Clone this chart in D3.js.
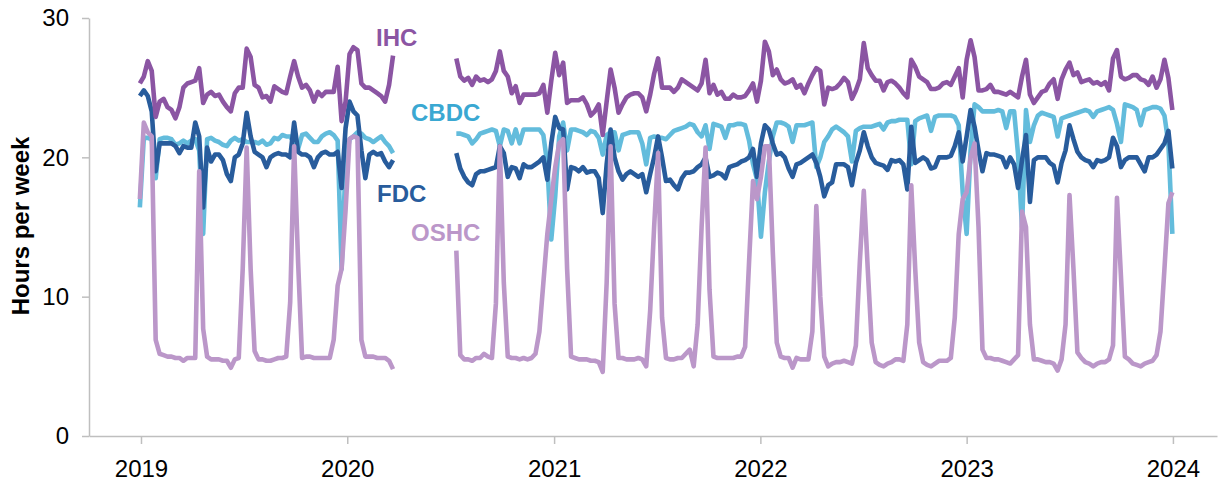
<!DOCTYPE html>
<html><head><meta charset="utf-8">
<script src="https://cdn.jsdelivr.net/npm/d3@7"></script>
<style>
body{margin:0;background:#fff}
svg{display:block}
text{font-family:"Liberation Sans",Arial,Helvetica,sans-serif}
</style>
</head><body>
<svg id="chart" width="1219" height="481"></svg>
<script>
// ---------- data ----------
const firstWeek = "2018-12-30";   // weekly observations
const weekCount = 262;
const yTickValues = [0, 10, 20, 30];
const xTickYears = ["2019", "2020", "2021", "2022", "2023", "2024"];
const yAxisTitle = "Hours per week";

const gap = [null,null,null,null,null,null,null,null,null,null,null,null,null,null,null];

const ihcA = [25.3,25.8,26.9,26.2,22.9,24.0,24.2,23.6,23.4,22.8,
23.6,25.0,25.3,25.4,25.5,26.4,23.9,24.5,24.7,24.4,
24.5,24.0,23.6,23.3,24.6,25.0,25.0,27.8,27.2,25.2,
25.0,24.3,24.4,24.0,25.1,24.9,24.7,24.6,25.8,26.9,
25.8,25.0,25.2,24.8,24.0,24.7,24.4,24.7,24.7,24.7,
26.5,22.6,24.0,27.4,27.9,27.7,25.3,25.0,25.0,24.8,
24.6,24.4,24.0,25.2,27.3];
const ihcB = [27.1,25.8,25.5,25.7,25.2,25.8,25.5,25.6,25.4,25.6,
26.2,27.6,26.2,25.8,24.6,25.1,23.9,24.5,24.5,24.5,
24.5,24.6,25.2,23.2,25.5,27.5,25.9,26.8,23.9,24.1,
24.1,24.1,24.3,23.8,23.0,23.3,23.8,21.6,24.0,26.3,
25.0,23.2,23.8,24.3,24.5,24.6,24.6,24.3,23.3,24.5,
26.0,27.1,25.0,25.0,25.0,24.7,25.0,25.6,25.4,25.2,
25.0,24.8,25.3,27.0,24.6,25.2,24.5,24.7,24.2,24.2,
24.5,24.3,24.3,24.4,24.8,25.3,24.0,25.5,28.3,27.6,
25.9,26.3,25.6,25.3,25.4,25.6,25.0,25.2,24.6,25.3,
25.9,26.4,26.2,23.8,25.0,24.9,25.0,25.3,25.7,25.4,
24.2,24.8,25.6,28.2,26.4,25.9,25.5,25.5,24.8,25.4,
25.5,25.3,25.0,24.6,24.3,27.0,26.5,25.8,25.6,25.4,
24.9,24.9,25.0,25.3,25.4,25.2,25.8,26.4,24.3,27.0,
28.4,27.2,24.8,24.8,24.9,25.2,24.7,24.7,24.6,24.5,
24.7,24.5,24.3,25.8,27.0,24.5,23.9,24.3,24.7,24.8,
25.3,25.6,24.2,25.6,26.3,26.8,25.9,26.1,25.4,25.5,
25.6,25.3,25.4,25.2,25.4,24.8,27.1,27.7,25.8,25.6,
25.7,25.9,25.9,25.6,25.5,25.2,25.8,25.0,25.6,27.0,
25.7,23.4];

const cbdcA = [16.4,21.4,21.4,21.3,18.5,21.3,21.4,21.4,21.3,20.9,
21.0,21.2,21.0,21.2,21.3,20.5,14.5,21.3,21.4,21.2,
21.1,20.9,20.8,21.2,21.4,21.2,21.3,21.1,21.1,21.1,
21.0,21.2,20.9,21.0,21.4,21.3,21.6,21.5,21.5,21.0,
20.6,21.6,21.7,21.4,21.1,21.1,21.5,21.7,21.8,21.6,
21.2,12.0,19.5,21.3,21.5,21.8,21.7,21.4,21.3,21.1,
21.3,21.5,21.1,20.8,20.3];
const cbdcB = [21.7,21.7,21.6,21.5,21.0,21.3,21.7,21.8,21.9,22.0,
21.9,20.8,22.0,21.9,21.0,22.0,21.0,22.0,22.0,22.0,
22.0,22.0,21.6,19.5,14.1,17.2,21.5,22.5,20.5,22.0,
22.0,21.9,21.8,21.6,21.9,21.8,21.4,20.2,21.6,21.8,
21.8,20.5,21.6,21.7,21.8,21.8,21.8,21.0,19.5,21.4,
21.5,21.4,21.4,21.3,21.6,21.9,22.0,22.1,22.2,22.4,
22.3,21.8,21.5,22.3,20.6,22.4,22.3,22.2,21.4,22.3,
22.3,22.4,22.4,22.3,21.2,19.5,18.4,14.3,17.5,19.7,
21.5,22.5,22.5,22.4,22.2,21.1,22.3,22.3,22.3,22.4,
22.5,19.3,20.0,21.1,21.5,22.0,22.2,22.0,21.8,21.5,
19.7,21.9,22.1,22.2,22.2,22.2,22.3,22.4,22.0,22.5,
22.6,22.6,22.7,22.7,22.7,19.5,22.6,22.8,22.9,23.0,
21.9,22.9,23.0,23.0,23.0,23.0,22.9,22.3,17.5,14.5,
20.5,23.8,23.6,23.3,23.3,23.3,23.3,23.4,23.3,22.1,
23.3,23.3,20.2,15.0,23.4,21.1,22.3,23.0,23.2,23.1,
23.0,22.9,21.5,22.8,22.9,23.0,23.1,23.2,23.3,23.4,
23.3,22.9,23.3,23.4,23.5,23.6,23.4,22.4,21.1,23.8,
23.7,23.6,23.4,22.3,23.4,23.5,23.6,23.6,23.5,23.0,
21.0,14.5];

const fdcA = [24.4,24.8,24.4,23.3,19.0,21.0,21.0,21.0,21.0,20.8,
20.3,20.8,20.7,20.7,22.5,21.5,16.4,20.7,19.7,20.2,
20.2,19.8,18.8,18.3,20.0,20.2,21.0,23.2,21.5,20.4,
20.2,20.0,19.3,20.0,20.2,20.3,20.2,20.2,20.0,22.5,
20.4,20.2,20.2,20.0,19.3,20.0,20.3,20.4,20.2,20.2,
20.4,17.8,22.1,24.0,23.3,23.0,20.5,18.5,20.2,20.4,
20.2,20.3,19.7,19.3,19.8];
const fdcB = [20.3,19.2,18.6,18.2,18.0,18.8,19.0,19.0,19.1,19.2,
19.3,20.8,20.3,18.6,19.3,19.2,18.5,19.5,19.3,19.3,
19.5,19.7,20.0,18.4,21.0,22.9,22.1,22.0,17.7,19.3,
19.2,19.0,19.3,18.9,19.0,19.0,18.5,16.0,19.5,22.0,
20.0,19.0,18.4,18.8,19.0,18.8,18.6,18.8,17.5,18.8,
20.0,21.5,20.0,18.3,18.4,18.0,17.7,18.5,18.9,18.9,
19.0,19.3,19.5,20.0,18.6,18.7,18.9,18.8,18.5,19.3,
19.4,19.5,19.7,19.8,20.0,20.6,18.6,21.0,22.3,22.0,
21.0,20.2,20.3,20.0,19.2,18.6,19.5,19.6,19.8,20.0,
20.2,19.6,18.6,17.2,18.0,18.2,19.5,19.5,19.5,19.3,
18.0,19.6,20.5,21.8,20.8,20.0,19.6,19.5,19.4,19.1,
19.8,19.7,19.8,19.5,17.7,22.2,19.6,19.8,20.0,19.8,
19.2,19.3,20.0,20.0,20.0,20.1,20.8,21.8,19.7,21.5,
23.4,22.2,20.5,19.0,20.3,20.2,20.2,20.1,20.0,19.3,
20.0,19.5,17.8,19.8,21.6,16.8,19.8,20.0,20.0,20.0,
19.6,19.4,18.2,19.6,20.5,22.3,21.3,20.4,20.0,19.8,
19.7,19.3,19.8,19.7,19.8,20.0,21.4,20.8,19.3,19.8,
20.0,20.0,20.0,19.5,19.0,20.0,20.0,20.2,20.6,21.0,
21.9,19.2];

const oshcA = [17.0,22.5,21.8,21.5,6.9,5.9,5.8,5.7,5.7,5.6,
5.6,5.4,5.6,5.6,5.6,19.0,7.7,5.7,5.5,5.5,
5.5,5.4,5.4,4.9,5.5,5.6,12.0,20.7,12.0,6.1,
5.5,5.5,5.4,5.4,5.5,5.6,5.6,5.7,9.6,20.8,
12.5,5.6,5.7,5.7,5.6,5.6,5.6,5.6,5.6,6.9,
10.8,12.0,16.2,21.3,21.5,21.4,6.9,5.7,5.7,5.7,
5.6,5.6,5.6,5.4,4.8];
const oshcB = [13.3,5.8,5.5,5.5,5.4,5.6,5.6,5.9,5.7,5.6,
9.5,20.8,11.0,5.7,5.6,5.6,5.5,5.6,5.5,5.6,
5.9,7.5,11.0,14.5,17.0,19.3,21.0,21.3,12.0,5.7,
5.6,5.5,5.5,5.5,5.4,5.4,5.3,4.6,11.0,20.8,
9.5,5.6,5.6,5.5,5.5,5.5,5.6,5.5,5.0,9.0,
15.0,20.3,8.5,5.6,5.5,5.5,5.6,5.6,5.9,6.2,
5.0,8.0,15.0,20.7,10.5,5.7,5.6,5.6,5.6,5.6,
5.6,5.7,5.7,6.4,12.5,18.3,17.0,18.6,20.8,20.8,
13.2,6.7,5.7,5.6,5.6,4.9,5.6,5.5,5.5,5.5,
7.5,16.5,10.0,5.7,5.0,5.2,5.3,5.3,5.4,5.3,
5.2,6.5,12.5,17.6,12.0,6.7,5.3,5.1,5.0,5.2,
5.3,5.5,5.5,5.4,8.0,18.0,12.0,6.7,5.3,5.1,
5.0,5.2,5.4,5.4,5.4,5.6,8.5,14.5,17.0,17.5,
20.0,21.0,15.0,6.2,5.6,5.6,5.5,5.5,5.4,5.3,
5.2,5.5,5.8,16.1,15.0,8.0,5.5,5.5,5.4,5.3,
5.3,5.2,4.7,5.5,8.0,17.3,12.0,6.0,5.6,5.3,
5.2,5.0,5.2,5.3,5.3,5.5,6.5,17.1,11.5,5.7,
5.5,5.2,5.1,5.0,5.2,5.3,5.4,5.8,7.5,12.0,
16.7,17.5];

const seriesNames = ["CBDC", "FDC", "IHC", "OSHC"];
const seriesValues = {
  CBDC: cbdcA.concat(gap, cbdcB),
  FDC: fdcA.concat(gap, fdcB),
  IHC: ihcA.concat(gap, ihcB),
  OSHC: oshcA.concat(gap, oshcB)
};

// ---------- styles ----------
const lineColors = {CBDC: "#63bcdc", FDC: "#285c9c", IHC: "#8b55a3", OSHC: "#bb97c9"};
const labelColors = {CBDC: "#3aa8d2", FDC: "#285c9c", IHC: "#8b55a3", OSHC: "#bb97c9"};
const labelPos = {IHC: [376, 46], CBDC: [411, 121], FDC: [377, 202], OSHC: [411, 241]};
const drawOrder = ["CBDC", "FDC", "IHC", "OSHC"];
const fontSize = "24px";

// ---------- chart ----------
const svg = d3.select("#chart");
const parse = d3.timeParse("%Y-%m-%d");
const weeks = d3.range(weekCount).map(i => d3.timeDay.offset(parse(firstWeek), 7 * i));

const x = d3.scaleTime()
  .domain([new Date(2018, 9, 1), new Date(2024, 2, 19)])
  .range([89, 1217]);
const y = d3.scaleLinear().domain([0, 30]).range([436, 18]);

const axisColor = "#bfbfbf";

const yAxis = svg.append("g")
  .attr("transform", "translate(89,0)")
  .call(d3.axisLeft(y).tickValues(yTickValues).tickSize(7).tickSizeOuter(0).tickPadding(13));
const xAxis = svg.append("g")
  .attr("transform", "translate(0,436)")
  .call(d3.axisBottom(x)
    .tickValues(xTickYears.map(s => d3.timeParse("%Y")(s)))
    .tickFormat(d3.timeFormat("%Y"))
    .tickSize(8).tickSizeOuter(0).tickPadding(16));

[yAxis, xAxis].forEach(g => {
  g.select(".domain").attr("stroke", axisColor).attr("stroke-width", 1.5);
  g.selectAll(".tick line").attr("stroke", axisColor).attr("stroke-width", 1.5);
  g.selectAll(".tick text").attr("fill", "#000").style("font-size", fontSize)
    .style("font-family", '"Liberation Sans", Arial, sans-serif');
});

svg.append("text")
  .attr("transform", "translate(29,226) rotate(-90)")
  .attr("text-anchor", "middle")
  .style("font-size", fontSize).style("font-weight", "bold").attr("fill", "#000")
  .text(yAxisTitle);

const line = d3.line()
  .defined(d => d != null)
  .x((d, i) => x(weeks[i]))
  .y(d => y(d));

drawOrder.forEach(name => {
  svg.append("path")
    .datum(seriesValues[name])
    .attr("fill", "none")
    .attr("stroke", lineColors[name])
    .attr("stroke-width", 4.6)
    .attr("stroke-linejoin", "round")
    .attr("d", line);
});

seriesNames.forEach(name => {
  svg.append("text")
    .attr("x", labelPos[name][0]).attr("y", labelPos[name][1])
    .style("font-size", fontSize).style("font-weight", "bold")
    .attr("fill", labelColors[name])
    .text(name);
});
</script>
</body></html>
